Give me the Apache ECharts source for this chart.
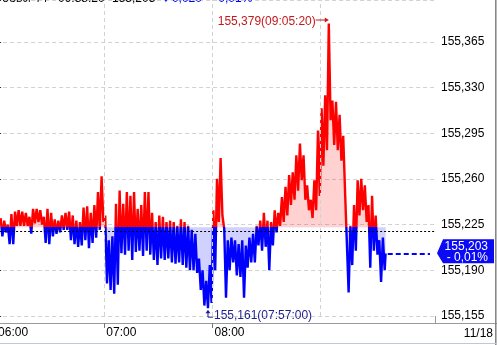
<!DOCTYPE html>
<html><head><meta charset="utf-8">
<script src="https://cdn.jsdelivr.net/npm/echarts@6/dist/echarts.min.js"></script>
<style>html,body{margin:0;padding:0;background:#fff;overflow:hidden}#c{width:497px;height:345px}</style>
</head><body><div id="c"></div>
<script>
const FONT = '"Liberation Sans","Arial",sans-serif';
const FS = 12;

// ---- header / meta texts
const symbolText = 'USDJPY F';
const timeText = '09:38:20';
const priceText = '155,203';
const changeText = '\u25BC0,020';
const pctText = '- 0,01%';
const dateLabel = '11/18';

// ---- reference levels
const prevClose = 155.223;
const lastPrice = 155.203;

// ---- axes
const xTickMinutes = [0, 60, 120, 180];           // 06:00 .. 09:00
const xTickLabels = ['06:00', '07:00', '08:00', '09:00'];
const yTickValues = [155.155, 155.190, 155.225, 155.260, 155.295, 155.330, 155.365];

// ---- tick data, 2-minute bins from 06:02 (minutes after 06:00), high and low of each bin
const binStartMin = 2;
const binStepMin = 2;
const highs = [
  155.230,155.228,155.225,155.233,155.235,155.236,155.235,155.234,155.231,155.237,
  155.237,155.236,155.231,155.237,155.234,155.229,155.228,155.232,155.234,155.235,
  155.232,155.228,155.227,155.238,155.239,155.234,155.240,155.250,155.262,155.232,
  155.213,155.216,155.241,155.251,155.241,155.250,155.247,155.250,155.237,155.240,
  155.250,155.250,155.234,155.227,155.232,155.231,155.227,155.228,155.227,155.224,
  155.229,155.227,155.224,155.221,155.218,155.199,155.190,155.182,155.194,155.236,
  155.260,155.276,155.222,155.213,155.215,155.213,155.210,155.213,155.209,155.215,
  155.218,155.224,155.228,155.234,155.228,155.227,155.236,155.234,155.246,155.254,
  155.263,155.265,155.278,155.287,155.278,155.255,155.244,155.259,155.297,155.314,
  155.324,155.379,155.320,155.319,155.309,155.293,155.251,155.224,155.240,155.259,
  155.260,155.255,155.240,155.247,155.232,155.213,155.215
];
const lows = [
  155.216,155.219,155.210,155.210,155.224,155.224,155.224,155.224,155.218,155.226,
  155.227,155.225,155.211,155.210,155.216,155.218,155.219,155.221,155.221,155.213,
  155.210,155.208,155.209,155.213,155.207,155.211,155.215,155.221,155.227,155.180,
  155.175,155.172,155.179,155.203,155.202,155.205,155.198,155.204,155.205,155.201,
  155.205,155.202,155.198,155.194,155.199,155.198,155.199,155.196,155.195,155.196,
  155.194,155.192,155.190,155.190,155.188,155.175,155.163,155.161,155.165,155.190,
  155.227,155.232,155.169,155.190,155.196,155.186,155.185,155.169,155.192,155.196,
  155.196,155.209,155.205,155.208,155.190,155.209,155.219,155.224,155.227,155.232,
  155.240,155.244,155.251,155.259,155.244,155.236,155.230,155.236,155.247,155.270,
  155.282,155.305,155.286,155.282,155.274,155.251,155.173,155.194,155.205,155.232,
  155.236,155.227,155.192,155.205,155.202,155.181,155.190
];
const lastMinute = 216;     // 09:36
const maxLabel = '155,379(09:05:20)';
const minLabel = '155,161(07:57:00)';

// ---- build series data
const seriesData = [];
for (let k = 0; k < highs.length; k++) {
  const t0 = binStartMin + binStepMin * k;
  seriesData.push([t0 + 0.5, highs[k]]);
  seriesData.push([t0 + 1.5, lows[k]]);
}
seriesData.push([lastMinute, lastPrice]);

let maxPt = seriesData[0], minPt = seriesData[0];
seriesData.forEach(p => { if (p[1] > maxPt[1]) maxPt = p; if (p[1] < minPt[1]) minPt = p; });

const fmtNum = v => v.toFixed(3).replace('.', ',');

const chart = echarts.init(document.getElementById('c'), null, {renderer: 'canvas'});
const X_MAX = 243.4;
chart.setOption({
  animation: false,
  backgroundColor: '#ffffff',
  grid: {left: -3.9, right: 62, top: 0, bottom: 29, outerBoundsMode: 'none'},
  xAxis: {
    type: 'value', min: 0, max: X_MAX, interval: 60, offset: 7,
    axisLine: {show: true, lineStyle: {color: '#9a9a9a', width: 1}},
    axisTick: {show: true, length: 5, lineStyle: {color: '#777'}, customValues: xTickMinutes},
    axisLabel: {
      customValues: xTickMinutes,
      formatter: v => { const i = xTickMinutes.indexOf(Math.round(v)); return i >= 0 ? xTickLabels[i] : ''; },
      align: 'left', margin: 4, padding: [0, 0, 0, 2],
      fontFamily: FONT, fontSize: FS, color: '#000', showMaxLabel: false, showMinLabel: true
    },
    splitLine: {show: false}
  },
  yAxis: {
    type: 'value', position: 'right', min: yTickValues[0], max: 155.397, interval: 0.035,
    axisLine: {show: true, lineStyle: {color: '#9a9a9a', width: 1}},
    axisTick: {show: true, length: 5, lineStyle: {color: '#333'}},
    minorTick: {show: true, splitNumber: 3, length: 3, lineStyle: {color: '#333'}},
    minorSplitLine: {show: false},
    axisLabel: {formatter: v => fmtNum(v), margin: 6, fontFamily: FONT, fontSize: FS, color: '#000',
      showMaxLabel: false, showMinLabel: true},
    splitLine: {show: true, lineStyle: {color: '#d2d2d2', type: [4, 3], width: 1}}
  },
  series: [
    {
      id: 'price', type: 'line', data: seriesData, showSymbol: false, symbol: 'none', z: 3,
      lineStyle: {width: 2.4, color: '#ff0000', join: 'bevel'},
      areaStyle: {origin: prevClose, opacity: 0.18, color: '#ff0000'},
      silent: true
    },
    {
      type: 'line', data: [], z: 1, silent: true,
      markLine: {
        silent: true, symbol: ['none', 'none'], label: {show: false}, animation: false,
        lineStyle: {color: '#d2d2d2', type: [4, 3], width: 1},
        data: xTickMinutes.slice(1).map(m => ({xAxis: m}))
      }
    },
    {
      type: 'line', data: [], z: 5, silent: true,
      markLine: {
        silent: true, symbol: ['none', 'none'], label: {show: false}, animation: false,
        data: [
          {yAxis: prevClose, lineStyle: {color: '#000', type: [2, 2], width: 1}},
          [{coord: [lastMinute + 1.2, lastPrice], lineStyle: {color: '#0000ff', type: [5, 3], width: 2}},
           {coord: [240.6, lastPrice]}]
        ]
      }
    }
  ]
});

// ---- colour split at the previous close, located through the y scale
const [, yBase] = chart.convertToPixel({gridIndex: 0}, [0, prevClose]);
const H = 345;
const f = yBase / H;
const split = () => new echarts.graphic.LinearGradient(0, 0, 0, H, [
  {offset: 0, color: '#ff0000'}, {offset: f, color: '#ff0000'},
  {offset: f, color: '#0000ff'}, {offset: 1, color: '#0000ff'}
], true);
chart.setOption({series: [{id: 'price', lineStyle: {color: split()}, areaStyle: {color: split()}}]});

// ---- annotations positioned through the chart's scales
const [px, py] = chart.convertToPixel({gridIndex: 0}, maxPt);
const [mx, my] = chart.convertToPixel({gridIndex: 0}, minPt);
const [, yc] = chart.convertToPixel({gridIndex: 0}, [0, lastPrice]);
const [axX, axY0] = chart.convertToPixel({gridIndex: 0}, [X_MAX, yTickValues[0]]);
const red = '#c41a1a', navy = '#1e1e8c';
const txt = (x, y, text, color, align, size) => ({
  type: 'text', x, y, silent: true, z: 20,
  style: {text, fill: color, font: (size || FS) + 'px ' + FONT, align: align || 'left', verticalAlign: 'middle'}
});
chart.setOption({
  graphic: [
    // header (top cut off)
    txt(2, -1, symbolText, '#000', 'left', 10),
    txt(58, -1, timeText, '#000'),
    txt(112, -1, priceText, '#000'),
    txt(160, -1, changeText, '#0000ff'),
    txt(211, -1, pctText, '#0000ff'),
    // max annotation
    txt(px - 13, py - 1.5, maxLabel, red, 'right'),
    {type: 'line', silent: true, z: 20, shape: {x1: px - 13, y1: py - 3.5, x2: px - 3, y2: py - 3.5}, style: {stroke: red, lineWidth: 1}},
    {type: 'polygon', silent: true, z: 20, shape: {points: [[px, py - 3.5], [px - 4, py - 6], [px - 4, py - 1]]}, style: {fill: red}},
    // min annotation
    {type: 'polyline', silent: true, z: 20, shape: {points: [[mx, my + 3], [mx, my + 9], [mx + 5, my + 9]]}, style: {stroke: navy, lineWidth: 1, fill: null}},
    {type: 'polygon', silent: true, z: 20, shape: {points: [[mx, my + 1.5], [mx - 2.5, my + 5], [mx + 2.5, my + 5]]}, style: {fill: navy}},
    txt(mx + 6, my + 8, minLabel, navy, 'left'),
    // current price tag
    {type: 'polygon', silent: true, z: 20, shape: {points: [[axX + 2, yc], [axX + 8, yc - 14], [494, yc - 14], [494, yc + 10], [axX + 8, yc + 10]]}, style: {fill: '#0a0af5'}},
    txt(488, yc - 7, priceText, '#fff', 'right'),
    txt(488, yc + 4, pctText, '#fff', 'right'),
    // axis joins / frame
    {type: 'line', silent: true, z: 10, shape: {x1: axX + 0.5, y1: axY0, x2: axX + 0.5, y2: axY0 + 7}, style: {stroke: '#9a9a9a', lineWidth: 1}},
    {type: 'line', silent: true, z: 10, shape: {x1: axX, y1: axY0 + 7.5, x2: 497, y2: axY0 + 7.5}, style: {stroke: '#9a9a9a', lineWidth: 1}},
    txt(493, axY0 + 18, dateLabel, '#000', 'right'),
    {type: 'line', silent: true, z: 10, shape: {x1: 495.8, y1: 0, x2: 495.8, y2: 345}, style: {stroke: '#808080', lineWidth: 1.5}},
    {type: 'line', silent: true, z: 10, shape: {x1: 0, y1: 343.5, x2: 497, y2: 343.5}, style: {stroke: '#c0c8d6', lineWidth: 1}}
  ]
});
</script></body></html>
